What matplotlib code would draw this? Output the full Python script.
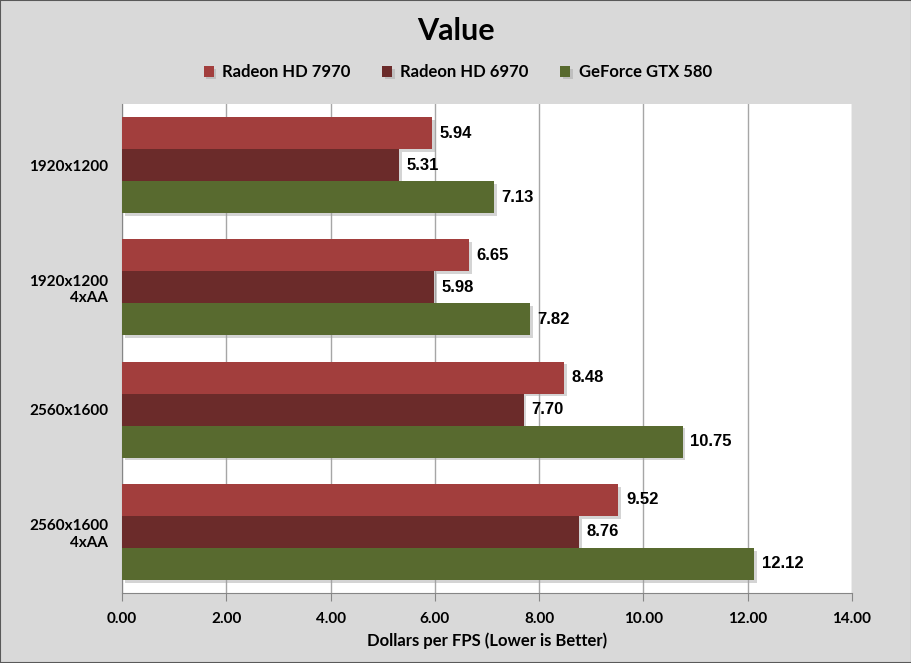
import numpy as np
import matplotlib.pyplot as plt
import matplotlib.patheffects as pe

categories = ["1920x1200", "1920x1200\n4xAA", "2560x1600", "2560x1600\n4xAA"]
series_names = ["Radeon HD 7970", "Radeon HD 6970", "GeForce GTX 580"]
hd7970 = [5.94, 6.65, 8.48, 9.52]
hd6970 = [5.31, 5.98, 7.70, 8.76]
gtx580 = [7.13, 7.82, 10.75, 12.12]
colors = ["#A23E3D", "#6B2B2A", "#586A2F"]
xticks = [0, 2, 4, 6, 8, 10, 12, 14]

bg = "#D9D9D9"
fig = plt.figure(figsize=(9.12, 6.63), dpi=100, facecolor=bg)
ax = fig.add_axes([0.1338, 0.1056, 0.8004, 0.7375])
ax.set_facecolor("white")

y = np.arange(len(categories))
h = 0.262
shadow = [pe.SimplePatchShadow(offset=(2, -2), shadow_rgbFace="#A0A0A0", alpha=0.45), pe.Normal()]
for i, (vals, name) in enumerate(zip([hd7970, hd6970, gtx580], series_names)):
    pos = y + (i - 1) * h
    bars = ax.barh(pos, vals, height=h, color=colors[i], label=name, zorder=3)
    for b in bars:
        b.set_path_effects(shadow)
    for p, v in zip(pos, vals):
        ax.text(v + 0.15, p, f"{v:.2f}", va="center", ha="left",
                fontsize=12, fontweight="bold", family="Liberation Sans", zorder=4)

ax.set_xlim(0, 14)
ax.set_ylim(len(categories) - 0.5, -0.5)
ax.set_xticks(xticks)
ax.set_xticklabels([f"{t:.2f}" for t in xticks], fontsize=11, fontweight="bold", family="Lato")
ax.set_yticks(y)
ax.set_yticklabels(categories, fontsize=11, fontweight="bold", family="Lato")
ax.tick_params(axis="y", length=0, pad=10)
ax.tick_params(axis="x", length=6, color="#868686", pad=8)
ax.grid(axis="x", color="#A6A6A6", lw=1, zorder=0)
for s in ["top", "right"]:
    ax.spines[s].set_visible(False)
ax.spines["left"].set_color("#868686")
ax.spines["bottom"].set_color("#868686")

ax.set_xlabel("Dollars per FPS (Lower is Better)", fontsize=12, fontweight="bold", family="Lato", labelpad=4)

fig.text(0.5, 0.953, "Value", ha="center", va="center", fontsize=22, fontweight="bold", family="Lato")
leg = fig.legend(loc="center", bbox_to_anchor=(0.502, 0.891), ncol=3, frameon=False,
                 prop={"family": "Lato", "weight": "bold", "size": 12},
                 handlelength=0.6, handleheight=0.6, columnspacing=1.9, handletextpad=0.5)

fig.patches.append(plt.Rectangle((0, 0), 1, 1, transform=fig.transFigure, fill=False,
                                 edgecolor="#595959", lw=1.5))

fig.savefig("out.png", dpi=100, facecolor=bg)
